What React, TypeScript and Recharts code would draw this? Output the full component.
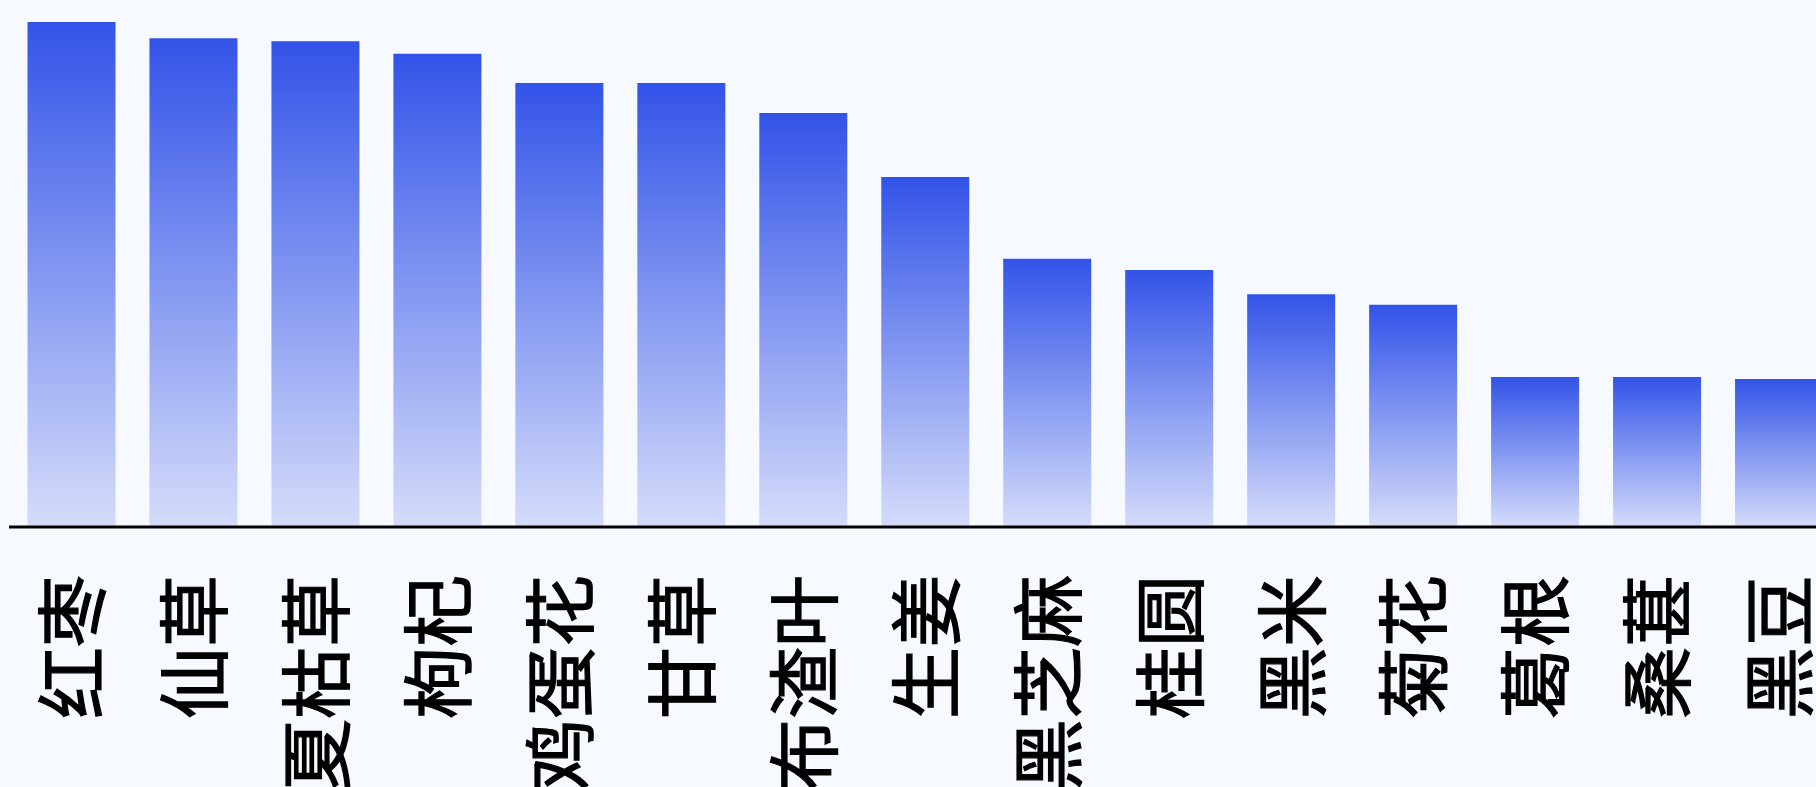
import React from 'react';
import { BarChart, Bar, XAxis, YAxis } from 'recharts';

const herbs = ['红枣', '仙草', '夏枯草', '枸杞', '鸡蛋花', '甘草', '布渣叶', '生姜', '黑芝麻', '桂圆', '黑米', '菊花', '葛根', '桑葚', '黑豆'];
const scores = [100, 96.8, 96.2, 93.7, 87.9, 87.9, 82.0, 69.3, 53.1, 50.9, 46.1, 44.0, 29.7, 29.7, 29.3];

const data = herbs.map((name, i) => ({ name, value: scores[i] }));

// labels are rotated, reading bottom to top
const VerticalTick = (props: any) => {
  const { x, y, payload } = props;
  const ty = y + 40;
  return (
    <text
      x={x}
      y={ty}
      dy="0.38em"
      transform={`rotate(-90, ${x}, ${ty})`}
      textAnchor="end"
      fill="#000"
      stroke="#000"
      strokeWidth={1.2}
      fontSize={72}
      fontFamily='"Noto Sans CJK SC", "Noto Sans", sans-serif'
    >
      {payload.value}
    </text>
  );
};

export default function App() {
  return (
    <div
      style={{
        position: 'fixed',
        left: 0,
        top: 0,
        width: 1816,
        height: 787,
        overflow: 'hidden',
        background: '#F6F9FF',
      }}
    >
      <BarChart width={1840} height={787} data={data} margin={{ top: 22, right: 0, bottom: 0, left: 9 }} barSize={88}>
        <defs>
          <linearGradient id="herbGrad" x1="0" y1="0" x2="0" y2="1">
            <stop offset="0%" stopColor="#3253E8" />
            <stop offset="100%" stopColor="#D5DCFA" />
          </linearGradient>
        </defs>
        <XAxis
          dataKey="name"
          interval={0}
          height={260}
          padding={{ left: 1.5, right: 0 }}
          axisLine={{ stroke: '#000', strokeWidth: 3 }}
          tickLine={false}
          tick={<VerticalTick />}
        />
        <YAxis hide domain={[0, 100]} />
        <Bar dataKey="value" fill="url(#herbGrad)" isAnimationActive={false} />
      </BarChart>
    </div>
  );
}
